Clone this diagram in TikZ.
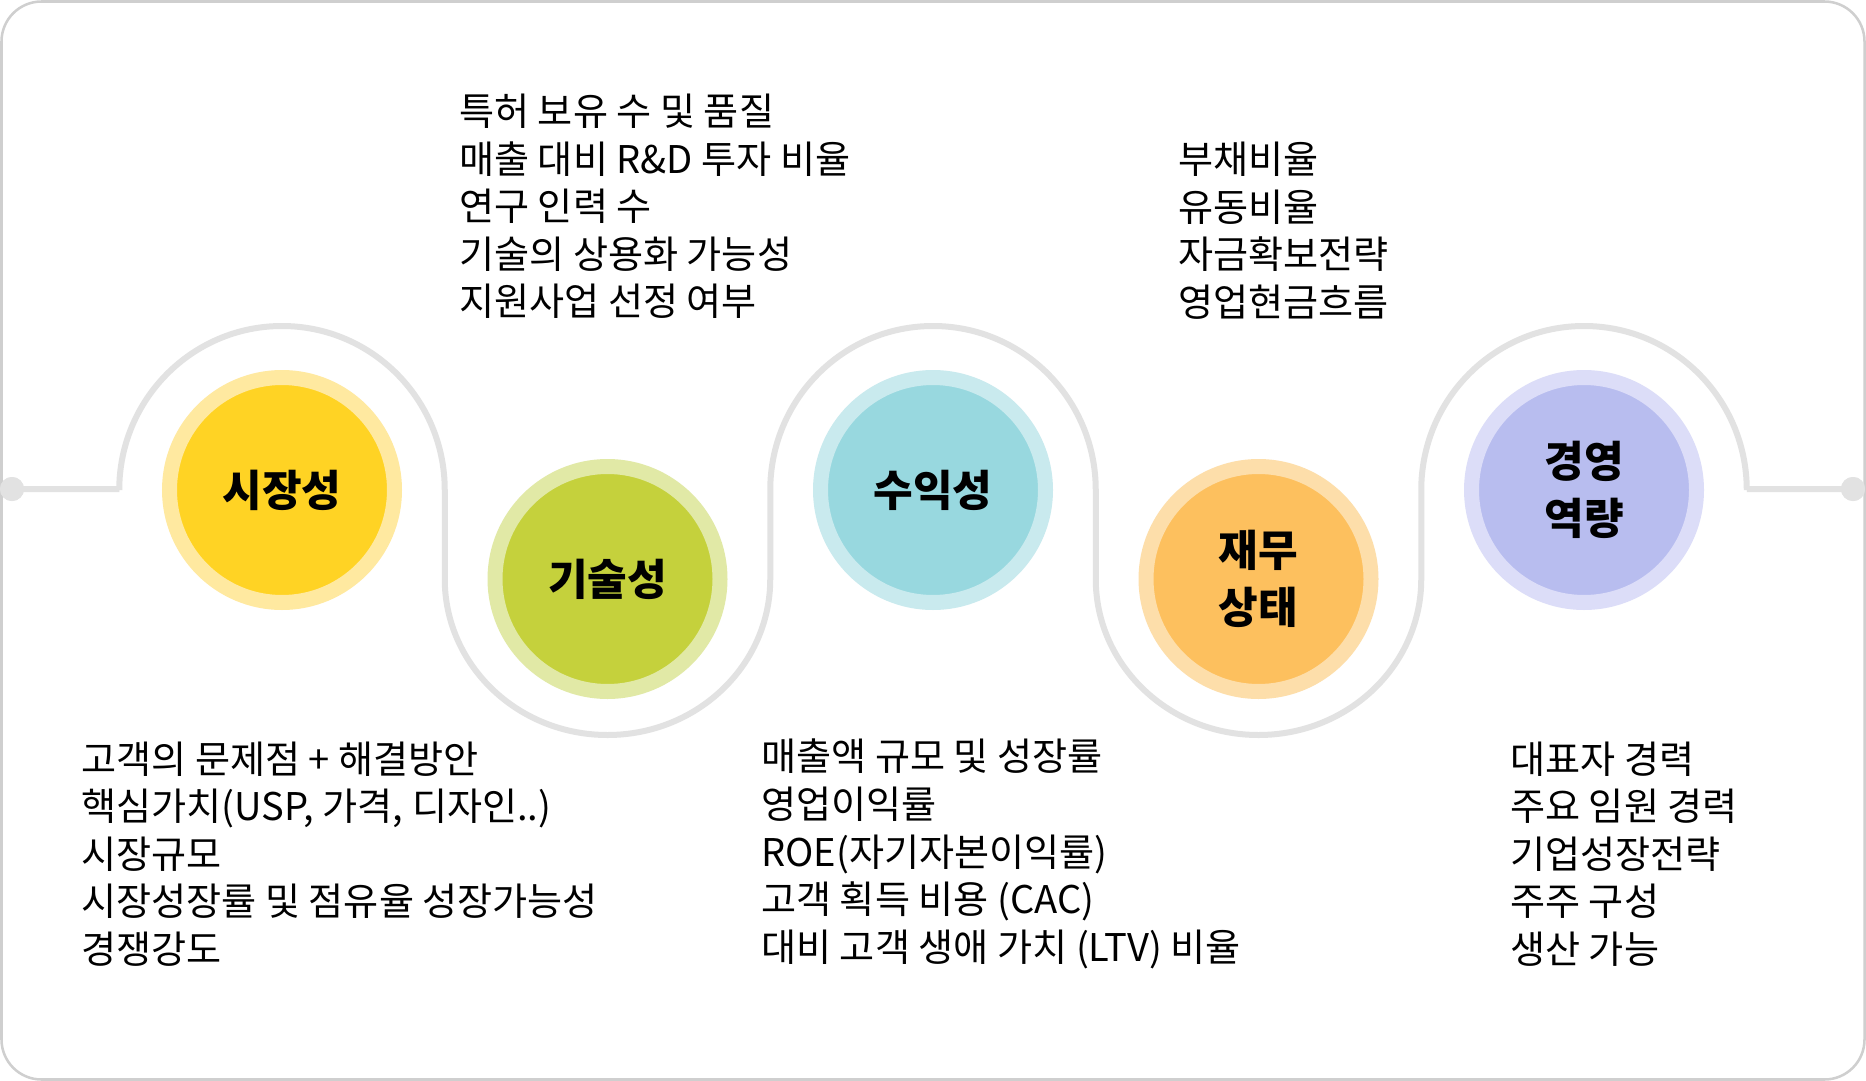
\documentclass[tikz,border=0pt]{standalone}
\usepackage{fontspec}
\setmainfont{Noto Sans CJK KR}
\usepackage{tikz}
\usetikzlibrary{calc}
\definecolor{ringyellow}{HTML}{FFE9A0}
\definecolor{coreyellow}{HTML}{FFD324}
\definecolor{ringlime}{HTML}{E1E9A6}
\definecolor{corelime}{HTML}{C5D13C}
\definecolor{ringcyan}{HTML}{C9EAEE}
\definecolor{corecyan}{HTML}{98D8DF}
\definecolor{ringorange}{HTML}{FDDEAA}
\definecolor{coreorange}{HTML}{FDC05E}
\definecolor{ringviolet}{HTML}{DCDDF8}
\definecolor{coreviolet}{HTML}{B8BDEF}
\definecolor{trackgray}{HTML}{E2E2E2}
\definecolor{framegray}{HTML}{CFCFCF}

\begin{document}
\begin{tikzpicture}[
    x=0.75pt, y=-0.75pt,
    stage/.style={circle, minimum size=168.75pt, line width=11.25pt, inner sep=0pt,
                align=center, font=\bfseries\fontsize{32.3pt}{43pt}\selectfont},
    track/.style={draw=trackgray, line width=4.5pt},
    dot/.style={circle, fill=trackgray, minimum size=18pt, inner sep=0pt},
    info/.style={anchor=west, align=left, inner sep=0pt,
                font=\fontsize{28.6pt}{35.7pt}\selectfont}
]
\useasboundingbox (0,0) rectangle (1866,1081);
\draw[framegray, line width=1.9pt, fill=white, rounded corners=30pt] (1.5,1.5) rectangle (1864.5,1079.5);

\node[dot] (dl) at (12,489) {};
\node[dot] (dr) at (1853,489) {};
\node[stage, draw=ringyellow, fill=coreyellow] (c1) at (282,490) {시장성};
\node[stage, draw=ringlime, fill=corelime]     (c2) at (607.5,579) {기술성};
\node[stage, draw=ringcyan, fill=corecyan]     (c3) at (933,490) {수익성};
\node[stage, draw=ringorange, fill=coreorange] (c4) at (1258.5,579) {재무\\상태};
\node[stage, draw=ringviolet, fill=coreviolet] (c5) at (1584,490) {경영\\역량};

\begin{scope}[on background layer/.try]
\draw[track] (dl.center) -- ($(c1)+(-162.75,-1)$) -- ($(c1)+(-162.75,0)$)
    arc[start angle=180, end angle=360, x radius=162.75, y radius=164]
    -- ($(c2)+(-162.75,0)$)
    arc[start angle=180, end angle=0, x radius=162.75, y radius=156]
    -- ($(c3)+(-162.75,0)$)
    arc[start angle=180, end angle=360, x radius=162.75, y radius=164]
    -- ($(c4)+(-162.75,0)$)
    arc[start angle=180, end angle=0, x radius=162.75, y radius=156]
    -- ($(c5)+(-162.75,0)$)
    arc[start angle=180, end angle=360, x radius=162.75, y radius=164]
    -- ($(c5)+(162.75,-1)$) -- (dr.center);
\end{scope}
\node[dot] at (dl) {};
\node[dot] at (dr) {};

\node[info] (m1) at (81,854) {고객의 문제점 + 해결방안\\핵심가치(USP, 가격, 디자인..)\\시장규모\\시장성장률 및 점유율 성장가능성\\경쟁강도};
\node[info] (m2) at (459,206.5) {특허 보유 수 및 품질\\매출 대비 R\&D 투자 비율\\연구 인력 수\\기술의 상용화 가능성\\지원사업 선정 여부};
\node[info] (m3) at (761,854) {매출액 규모 및 성장률\\영업이익률\\ROE(자기자본이익률)\\고객 획득 비용 (CAC)\\대비 고객 생애 가치 (LTV) 비율};
\node[info] (m4) at (1178,230.5) {부채비율\\유동비율\\자금확보전략\\영업현금흐름};
\node[info] (m5) at (1510,854) {대표자 경력\\주요 임원 경력\\기업성장전략\\주주 구성\\생산 가능};
\end{tikzpicture}
\end{document}
